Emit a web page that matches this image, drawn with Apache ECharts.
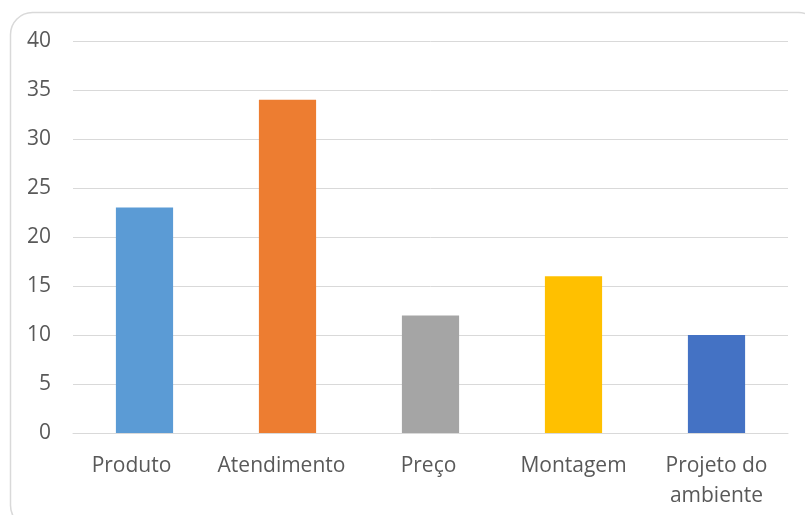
<!DOCTYPE html>
<html>
<head>
<meta charset="utf-8">
<script src="https://cdn.jsdelivr.net/npm/echarts@6/dist/echarts.min.js"></script>
<style>
  html, body { margin: 0; padding: 0; background: #fff; }
  #chart { width: 805px; height: 515px; }
</style>
</head>
<body>
<div id="chart"></div>
<script>
const categories = ['Produto', 'Atendimento', 'Preço', 'Montagem', 'Projeto do\nambiente'];
const values = [23, 34, 12, 16, 10];
const barColors = ['#5B9BD5', '#ED7D31', '#A5A5A5', '#FFC000', '#4472C4'];
const yTicks = { min: 0, max: 40, interval: 5 };

// leftward nudge (px) for category labels
const labelShift = [13, 6, 2, 0, 0];

const chart = echarts.init(document.getElementById('chart'), null, { renderer: 'canvas' });
const textColor = '#595959';
const fontFamily = '"Open Sans", "Noto Sans", sans-serif';

chart.setOption({
  animation: false,
  backgroundColor: '#ffffff',
  graphic: [{
    type: 'rect',
    shape: { x: 10.5, y: 12.5, width: 810, height: 515, r: 22 },
    style: { fill: 'none', stroke: '#D9D9D9', lineWidth: 1.5 },
    silent: true
  }],
  grid: { left: 73, right: 17, top: 41, bottom: 82, containLabel: false },
  xAxis: {
    type: 'category',
    data: categories.map((c, i) => ({
      value: c,
      textStyle: { padding: [0, labelShift[i] * 2, 0, 0] }
    })),
    axisLine: { show: true, lineStyle: { color: '#D9D9D9', width: 1 } },
    axisTick: { show: false },
    axisLabel: {
      color: textColor, fontFamily: fontFamily, fontSize: 21,
      margin: 18, lineHeight: 30, interval: 0
    }
  },
  yAxis: {
    type: 'value',
    min: yTicks.min, max: yTicks.max, interval: yTicks.interval,
    axisLine: { show: false },
    axisTick: { show: false },
    splitLine: { lineStyle: { color: '#D9D9D9', width: 1 } },
    axisLabel: { color: textColor, fontFamily: fontFamily, fontSize: 21, margin: 22 }
  },
  series: [{
    type: 'bar',
    data: values.map((v, i) => ({ value: v, itemStyle: { color: barColors[i] } })),
    barWidth: '40%'
  }]
});
</script>
</body>
</html>
